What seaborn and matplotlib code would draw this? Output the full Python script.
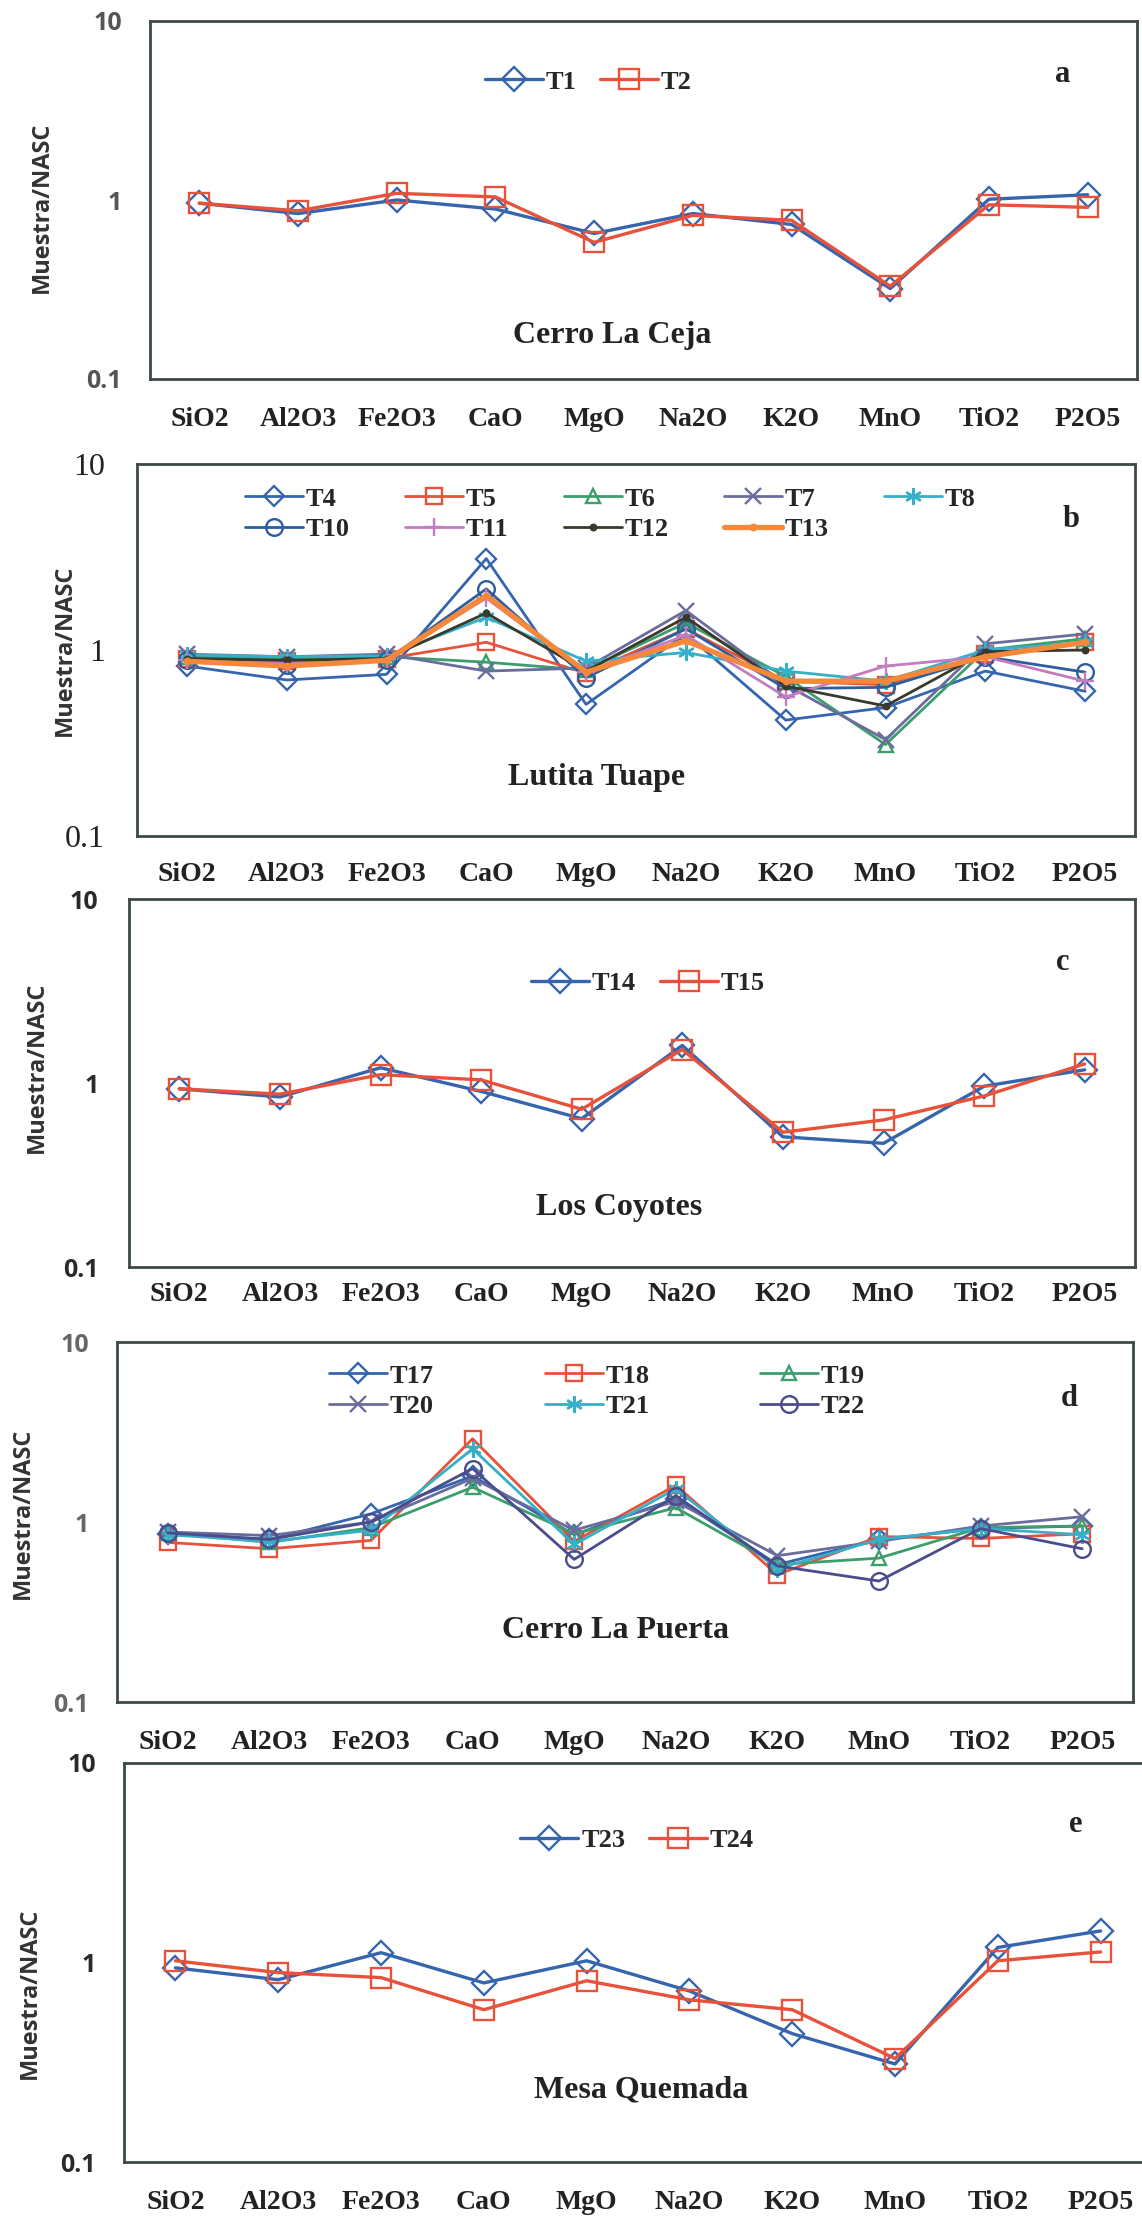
import numpy as np
import matplotlib
matplotlib.use("Agg")
import matplotlib.pyplot as plt
import seaborn as sns
from matplotlib.ticker import NullLocator

# Oxides on the x axis
oxides = ["SiO2", "Al2O3", "Fe2O3", "CaO", "MgO", "Na2O", "K2O", "MnO", "TiO2", "P2O5"]

# Panel a - Cerro La Ceja
t1 = [0.96, 0.84, 1.00, 0.89, 0.65, 0.84, 0.73, 0.32, 1.01, 1.07]
t2 = [0.96, 0.87, 1.09, 1.04, 0.58, 0.82, 0.77, 0.33, 0.94, 0.91]

# Panel b - Lutita Tuape
t4 = [0.82, 0.69, 0.74, 3.10, 0.51, 1.22, 0.42, 0.49, 0.77, 0.60]
t5 = [0.90, 0.87, 0.90, 1.10, 0.75, 1.30, 0.68, 0.65, 0.95, 1.10]
t6 = [0.92, 0.90, 0.92, 0.86, 0.78, 1.40, 0.72, 0.31, 1.00, 1.15]
t7 = [0.95, 0.92, 0.95, 0.77, 0.80, 1.63, 0.65, 0.33, 1.08, 1.22]
t8 = [0.94, 0.92, 0.93, 1.50, 0.87, 0.97, 0.77, 0.68, 1.00, 1.10]
t10 = [0.88, 0.83, 0.88, 2.13, 0.71, 1.30, 0.62, 0.63, 0.92, 0.76]
t11 = [0.88, 0.85, 0.90, 1.90, 0.76, 1.20, 0.56, 0.82, 0.92, 0.68]
t12 = [0.90, 0.88, 0.90, 1.58, 0.77, 1.50, 0.64, 0.50, 0.98, 1.00]
t13 = [0.87, 0.82, 0.88, 1.96, 0.76, 1.12, 0.68, 0.68, 0.92, 1.10]

# Panel c - Los Coyotes
t14 = [0.93, 0.84, 1.21, 0.90, 0.64, 1.60, 0.51, 0.47, 0.96, 1.18]
t15 = [0.93, 0.87, 1.11, 1.04, 0.72, 1.52, 0.54, 0.63, 0.85, 1.27]

# Panel d - Cerro La Puerta
t17 = [0.86, 0.80, 1.11, 1.80, 0.85, 1.35, 0.58, 0.80, 0.92, 0.95]
t18 = [0.77, 0.71, 0.79, 2.90, 0.78, 1.60, 0.51, 0.83, 0.81, 0.86]
t19 = [0.87, 0.77, 0.93, 1.56, 0.86, 1.20, 0.58, 0.63, 0.93, 0.95]
t20 = [0.88, 0.84, 1.00, 1.75, 0.90, 1.30, 0.65, 0.78, 0.95, 1.07]
t21 = [0.85, 0.78, 0.90, 2.55, 0.75, 1.53, 0.55, 0.80, 0.92, 0.85]
t22 = [0.87, 0.80, 1.00, 1.98, 0.62, 1.40, 0.57, 0.47, 0.92, 0.71]

# Panel e - Mesa Quemada
t23 = [0.94, 0.82, 1.12, 0.79, 1.02, 0.72, 0.44, 0.31, 1.19, 1.44]
t24 = [1.02, 0.89, 0.84, 0.58, 0.81, 0.65, 0.58, 0.33, 1.02, 1.13]

# Colours
BLUE = "#3565AD"
RED = "#E8523A"
GREEN = "#3C9E6C"
PURPLE = "#6B6C9E"
AQUA = "#36B0C8"
DBLUE = "#2C5E9E"
PINK = "#C27CC0"
DARK = "#3A3A2C"
ORANGE = "#F5883A"
SLATE = "#4A4C8C"
SPINE = "#3E4A44"

sns.set_style("white")
plt.rcParams["font.family"] = ["Liberation Serif", "DejaVu Serif"]

W, H = 1142, 2220
fig = plt.figure(figsize=(W / 100, H / 100), dpi=100)
x = np.arange(len(oxides))


def make_ax(left, right, top, bottom):
    return fig.add_axes([left / W, 1 - bottom / H, (right - left) / W, (bottom - top) / H])


def draw(ax, name, values, color, marker, ms, lw=2.0, mfc="none", mew=1.7):
    sns.lineplot(x=x, y=values, ax=ax, color=color, marker=marker, markersize=ms,
                 markerfacecolor=mfc, markeredgecolor=color, markeredgewidth=mew,
                 linewidth=lw, label=name)


ylabel_x_y = {"a": (42, 207), "b": (65, 650), "c": (37, 1067), "d": (23, 1513), "e": (30, 1993)}


def style(ax, box, ytick_font, ypad, xpad, title, title_xy, letter, letter_xy,
          leg_xy, ncol, order=None, leg_size=19, colspace=0.9):
    left, right, top, bottom = box
    ax.set_yscale("log")
    ax.set_ylim(0.1, 10)
    ax.set_xlim(-0.5, len(oxides) - 0.5)
    ax.set_yticks([0.1, 1, 10])
    ax.set_yticklabels(["0.1", "1", "10"], **ytick_font)
    ax.yaxis.set_minor_locator(NullLocator())
    ax.set_xticks(x)
    ax.set_xticklabels(oxides, fontsize=20, fontweight="bold", color="#222222")
    ax.set_xticks(np.arange(len(oxides) + 1) - 0.5, minor=True)
    ax.tick_params(axis="x", which="major", length=0, pad=xpad)
    ax.tick_params(axis="x", which="minor", direction="in", length=5, width=1.2, color=SPINE)
    ax.tick_params(axis="y", which="major", direction="out", length=6, width=1.2,
                   color="#777777", pad=ypad)
    for s in ax.spines.values():
        s.set_color(SPINE)
        s.set_linewidth(2)
    ax.set_xlabel("")
    ax.set_ylabel("Muestra/NASC", fontsize=17, fontweight="bold", color="#333333",
                  family=["Open Sans", "DejaVu Sans"], va="center")

    def to_axes(px, py):
        return (px - left) / (right - left), (bottom - py) / (bottom - top)

    ax.yaxis.set_label_coords(*to_axes(*ylabel_x_y[letter]))
    tx, ty = to_axes(*title_xy)
    ax.text(tx, ty, title, transform=ax.transAxes, ha="center", va="center",
            fontsize=23, fontweight="bold", color="#222222")
    lx, ly = to_axes(*letter_xy)
    ax.text(lx, ly, letter, transform=ax.transAxes, ha="center", va="center",
            fontsize=22, fontweight="bold", color="#222222")

    handles, labels = ax.get_legend_handles_labels()
    if order is not None:
        handles = [handles[i] for i in order]
        labels = [labels[i] for i in order]
    gx, gy = to_axes(*leg_xy)
    ax.legend(handles, labels, loc="center", bbox_to_anchor=(gx, gy), ncol=ncol,
              frameon=False, handlelength=2.2, handletextpad=0.1, columnspacing=colspace,
              labelspacing=0.25, borderaxespad=0,
              prop={"family": "Liberation Serif", "weight": "bold", "size": leg_size})


sans_grey = {"fontsize": 18, "fontweight": "bold", "color": "#555555",
             "family": ["Open Sans", "DejaVu Sans"]}
sans_dark = {"fontsize": 18, "fontweight": "bold", "color": "#2a2a2a",
             "family": ["Open Sans", "DejaVu Sans"]}
serif_big = {"fontsize": 23, "color": "#222222", "family": ["Liberation Serif"]}

# ---------------- panel a ----------------
box_a = (150, 1137, 21, 379)
ax_a = make_ax(*box_a)
draw(ax_a, "T1", t1, BLUE, "D", 12, lw=2.4)
draw(ax_a, "T2", t2, RED, "s", 14, lw=2.4)
style(ax_a, box_a, sans_grey, 14, 20, "Cerro La Ceja", (612, 335), "a", (1063, 75),
      (588, 82), 2)

# ---------------- panel b ----------------
box_b = (137, 1135, 464, 836)
ax_b = make_ax(*box_b)
draw(ax_b, "T4", t4, BLUE, "D", 10)
draw(ax_b, "T5", t5, RED, "s", 11)
draw(ax_b, "T6", t6, GREEN, "^", 10)
draw(ax_b, "T7", t7, PURPLE, "x", 12)
draw(ax_b, "T8", t8, AQUA, (6, 2, 0), 12)
draw(ax_b, "T10", t10, DBLUE, "o", 12)
draw(ax_b, "T11", t11, PINK, "+", 13)
draw(ax_b, "T12", t12, DARK, "o", 4, mfc=DARK)
draw(ax_b, "T13", t13, ORANGE, "o", 4, lw=3.8, mfc=ORANGE)
style(ax_b, box_b, serif_big, 17, 19, "Lutita Tuape", (597, 778), "b", (1071, 520),
      (610, 514), 5, order=[0, 5, 1, 6, 2, 7, 3, 8, 4], colspace=2.1)

# ---------------- panel c ----------------
box_c = (129, 1135, 899, 1267)
ax_c = make_ax(*box_c)
draw(ax_c, "T14", t14, BLUE, "D", 12, lw=2.4)
draw(ax_c, "T15", t15, RED, "s", 14, lw=2.4)
style(ax_c, box_c, sans_dark, 16, 11, "Los Coyotes", (619, 1207), "c", (1063, 962),
      (648, 983), 2)

# ---------------- panel d ----------------
box_d = (117, 1133, 1342, 1702)
ax_d = make_ax(*box_d)
draw(ax_d, "T17", t17, BLUE, "D", 10)
draw(ax_d, "T18", t18, RED, "s", 11)
draw(ax_d, "T19", t19, GREEN, "^", 10)
draw(ax_d, "T20", t20, PURPLE, "x", 12)
draw(ax_d, "T21", t21, AQUA, (6, 2, 0), 12)
draw(ax_d, "T22", t22, SLATE, "o", 12)
style(ax_d, box_d, {**sans_grey, "color": "#666666"}, 14, 20, "Cerro La Puerta",
      (615, 1630), "d", (1069, 1398), (597, 1391), 3, order=[0, 3, 1, 4, 2, 5],
      colspace=4.2)

# ---------------- panel e ----------------
box_e = (124, 1152, 1763, 2162)
ax_e = make_ax(*box_e)
draw(ax_e, "T23", t23, BLUE, "D", 12, lw=2.4)
draw(ax_e, "T24", t24, RED, "s", 14, lw=2.4)
style(ax_e, box_e, sans_dark, 14, 20, "Mesa Quemada", (641, 2090), "e", (1076, 1825),
      (637, 1840), 2)

fig.savefig("out.png", dpi=100, facecolor="white")
